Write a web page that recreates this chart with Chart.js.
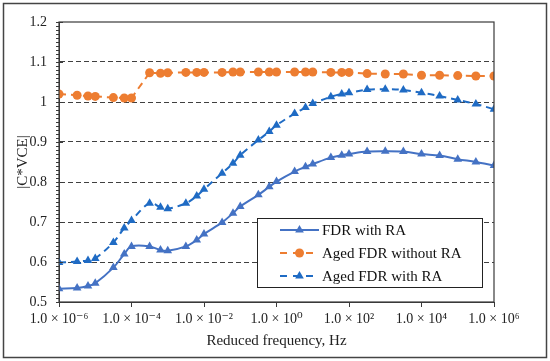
<!DOCTYPE html>
<html>
<head>
<meta charset="utf-8">
<script src="https://cdn.jsdelivr.net/npm/chart.js@4.4.1/dist/chart.umd.min.js"></script>
<style>
  body { margin: 0; background: #fff; }
  canvas { display: block; }
</style>
</head>
<body>
<canvas id="fdr-chart" width="550" height="361"></canvas>
<script>
// reduced frequency, Hz
const frequencies = [
  1e-6, 3.16e-6, 6.31e-6, 1e-5, 3.16e-5, 6.31e-5, 1e-4, 3.16e-4, 6.31e-4, 1e-3,
  3.16e-3, 6.31e-3, 1e-2, 3.16e-2, 6.31e-2, 0.1, 0.316, 0.631, 1, 3.16,
  6.31, 10, 31.6, 63.1, 100, 316, 1000, 3160, 1e4, 3.16e4,
  1e5, 3.16e5, 1e6
];

const fdrWithRA = [
  0.533, 0.535, 0.540, 0.547, 0.586, 0.620, 0.639, 0.639, 0.630, 0.628,
  0.639, 0.655, 0.670, 0.699, 0.722, 0.739, 0.768, 0.788, 0.801, 0.826,
  0.838, 0.845, 0.861, 0.867, 0.870, 0.876, 0.877, 0.876, 0.870, 0.866,
  0.857, 0.850, 0.841
];

const agedWithoutRA = [
  1.020, 1.017, 1.015, 1.014, 1.011, 1.010, 1.010, 1.073, 1.072, 1.073,
  1.074, 1.074, 1.074, 1.074, 1.075, 1.075, 1.075, 1.075, 1.075, 1.075,
  1.075, 1.075, 1.074, 1.074, 1.074, 1.071, 1.070, 1.070, 1.067, 1.067,
  1.066, 1.065, 1.065
];

const agedWithRA = [
  0.599, 0.601, 0.604, 0.609, 0.649, 0.685, 0.704, 0.747, 0.737, 0.733,
  0.747, 0.765, 0.782, 0.822, 0.847, 0.867, 0.905, 0.926, 0.942, 0.971,
  0.986, 0.996, 1.013, 1.020, 1.023, 1.031, 1.032, 1.030, 1.023, 1.015,
  1.005, 0.995, 0.982
];

const seriesLabels = ["FDR with RA", "Aged FDR without RA", "Aged FDR with RA"];
const xTickValues = [1e-6, 1e-4, 1e-2, 1e0, 1e2, 1e4, 1e6];
const yTickValues = [0.5, 0.6, 0.7, 0.8, 0.9, 1.0, 1.1, 1.2];

const SERIF = "'Liberation Serif', 'Times New Roman', 'DejaVu Serif', serif";
const AXIS_COLOR = "#3a3a3a";

const toPoints = (ys) => ys.map((y, i) => ({ x: frequencies[i], y: y }));

const SUP = { "0": "\u2070", "1": "\u00B9", "2": "\u00B2", "3": "\u00B3", "4": "\u2074",
  "5": "\u2075", "6": "\u2076", "7": "\u2077", "8": "\u2078", "9": "\u2079", "-": "\u207B" };
const sciLabel = (v) => {
  const e = Math.round(Math.log10(v));
  return "1.0 \u00D7 10" + String(e).split("").map((c) => SUP[c]).join("");
};

// frame, plot border, y ticks and the boxed legend
const decorPlugin = {
  id: "decor",
  beforeDraw(chart) {
    const ctx = chart.ctx;
    ctx.save();
    ctx.fillStyle = "#fff";
    ctx.fillRect(0, 0, chart.width, chart.height);
    ctx.restore();
  },
  afterDraw(chart) {
    const ctx = chart.ctx;
    const area = chart.chartArea;
    const yScale = chart.scales.y;
    ctx.save();
    // outer frame
    ctx.strokeStyle = "#444";
    ctx.lineWidth = 1.5;
    ctx.strokeRect(3.5, 3.5, chart.width - 7, chart.height - 7);
    // plot area border
    ctx.strokeStyle = AXIS_COLOR;
    ctx.lineWidth = 1.2;
    ctx.strokeRect(area.left, area.top, area.right - area.left, area.bottom - area.top);
    // y ticks: minor every 0.01 outside, major crossing
    ctx.lineWidth = 1;
    for (let k = 50; k <= 120; k++) {
      const py = Math.round(yScale.getPixelForValue(k / 100)) + 0.5;
      ctx.beginPath();
      if (k % 10 === 0) {
        ctx.moveTo(area.left - 3, py);
        ctx.lineTo(area.left + 4, py);
      } else {
        ctx.moveTo(area.left - 3, py);
        ctx.lineTo(area.left, py);
      }
      ctx.stroke();
    }

    // legend
    const box = { x: 257, y: 218, w: 225, h: 69 };
    ctx.fillStyle = "#fff";
    ctx.fillRect(box.x, box.y, box.w, box.h);
    ctx.strokeStyle = "#222";
    ctx.lineWidth = 1;
    ctx.strokeRect(box.x + 0.5, box.y + 0.5, box.w, box.h);
    const rows = [230, 253, 276];
    chart.data.datasets.forEach((ds, i) => {
      const ry = rows[i];
      ctx.save();
      ctx.strokeStyle = ds.borderColor;
      ctx.lineWidth = ds.borderWidth;
      if (ds.borderDash && ds.borderDash.length) {
        ctx.setLineDash([7, 6]);
      }
      ctx.beginPath();
      ctx.moveTo(280, ry);
      ctx.lineTo(319, ry);
      ctx.stroke();
      ctx.setLineDash([]);
      ctx.fillStyle = ds.pointBackgroundColor;
      drawMarker(ctx, ds.pointStyle, 299.5, ry, ds.pointRadius);
      ctx.restore();
      ctx.fillStyle = "#111";
      ctx.font = "15px " + SERIF;
      ctx.textBaseline = "middle";
      ctx.textAlign = "left";
      ctx.fillText(ds.label, 322, ry + 1);
    });
    ctx.restore();
  }
};

function drawMarker(ctx, style, x, y, r) {
  ctx.beginPath();
  if (style === "triangle") {
    for (let j = 0; j < 3; j++) {
      const a = j * 2 * Math.PI / 3;
      const px = x + Math.sin(a) * r;
      const py = y - Math.cos(a) * r;
      if (j === 0) ctx.moveTo(px, py); else ctx.lineTo(px, py);
    }
    ctx.closePath();
  } else {
    ctx.arc(x, y, r, 0, Math.PI * 2);
  }
  ctx.fill();
}

const ctx = document.getElementById("fdr-chart").getContext("2d");

new Chart(ctx, {
  type: "line",
  data: {
    datasets: [
      {
        label: seriesLabels[0],
        data: toPoints(fdrWithRA),
        borderColor: "#4472C4",
        backgroundColor: "#4472C4",
        pointBackgroundColor: "#4472C4",
        pointBorderWidth: 0,
        pointStyle: "triangle",
        pointRadius: 5,
        borderWidth: 2,
        tension: 0.35,
        borderDash: []
      },
      {
        label: seriesLabels[1],
        data: toPoints(agedWithoutRA),
        borderColor: "#ED7D31",
        backgroundColor: "#ED7D31",
        pointBackgroundColor: "#ED7D31",
        pointBorderWidth: 0,
        pointStyle: "circle",
        pointRadius: 4.5,
        borderWidth: 2,
        tension: 0,
        borderDash: [7, 5]
      },
      {
        label: seriesLabels[2],
        data: toPoints(agedWithRA),
        borderColor: "#1F6BC4",
        backgroundColor: "#1F6BC4",
        pointBackgroundColor: "#1F6BC4",
        pointBorderWidth: 0,
        pointStyle: "triangle",
        pointRadius: 5,
        borderWidth: 2,
        tension: 0.35,
        borderDash: [7, 5]
      }
    ]
  },
  options: {
    responsive: false,
    animation: false,
    events: [],
    layout: { padding: { top: 22, right: 56, left: 0, bottom: 0 } },
    plugins: {
      legend: { display: false },
      tooltip: { enabled: false }
    },
    scales: {
      x: {
        type: "logarithmic",
        min: 1e-6,
        max: 1e6,
        afterBuildTicks: (scale) => {
          scale.ticks = xTickValues.map((v) => ({ value: v }));
        },
        afterFit: (scale) => { scale.height = 59; },
        grid: {
          drawOnChartArea: false,
          drawTicks: true,
          tickLength: 5,
          tickColor: AXIS_COLOR,
          color: AXIS_COLOR
        },
        border: { display: true, color: AXIS_COLOR },
        ticks: {
          autoSkip: false,
          maxRotation: 0,
          padding: 4,
          color: "#222",
          font: { family: SERIF, size: 14 },
          callback: (v) => sciLabel(v)
        },
        title: {
          display: true,
          text: "Reduced frequency, Hz",
          color: "#222",
          font: { family: SERIF, size: 15 },
          padding: { top: 0, bottom: 11 }
        }
      },
      y: {
        min: 0.5,
        max: 1.2,
        afterBuildTicks: (scale) => {
          scale.ticks = yTickValues.map((v) => ({ value: v }));
        },
        afterFit: (scale) => { scale.width = 59; },
        grid: {
          drawTicks: false,
          lineWidth: 1,
          color: (c) => {
            const v = c.tick ? c.tick.value : 0;
            return (Math.abs(v - 0.5) < 1e-6 || Math.abs(v - 1.2) < 1e-6) ? "rgba(0,0,0,0)" : "#404040";
          }
        },
        border: { display: true, color: AXIS_COLOR, dash: [5, 3] },
        ticks: {
          padding: 12,
          color: "#222",
          font: { family: SERIF, size: 14 },
          callback: (v) => String(Number(v.toFixed(1)))
        },
        title: {
          display: true,
          text: "|C*VCE|",
          color: "#222",
          font: { family: SERIF, size: 15 },
          padding: { top: 14, bottom: 0 }
        }
      }
    }
  },
  plugins: [decorPlugin]
});
</script>
</body>
</html>
